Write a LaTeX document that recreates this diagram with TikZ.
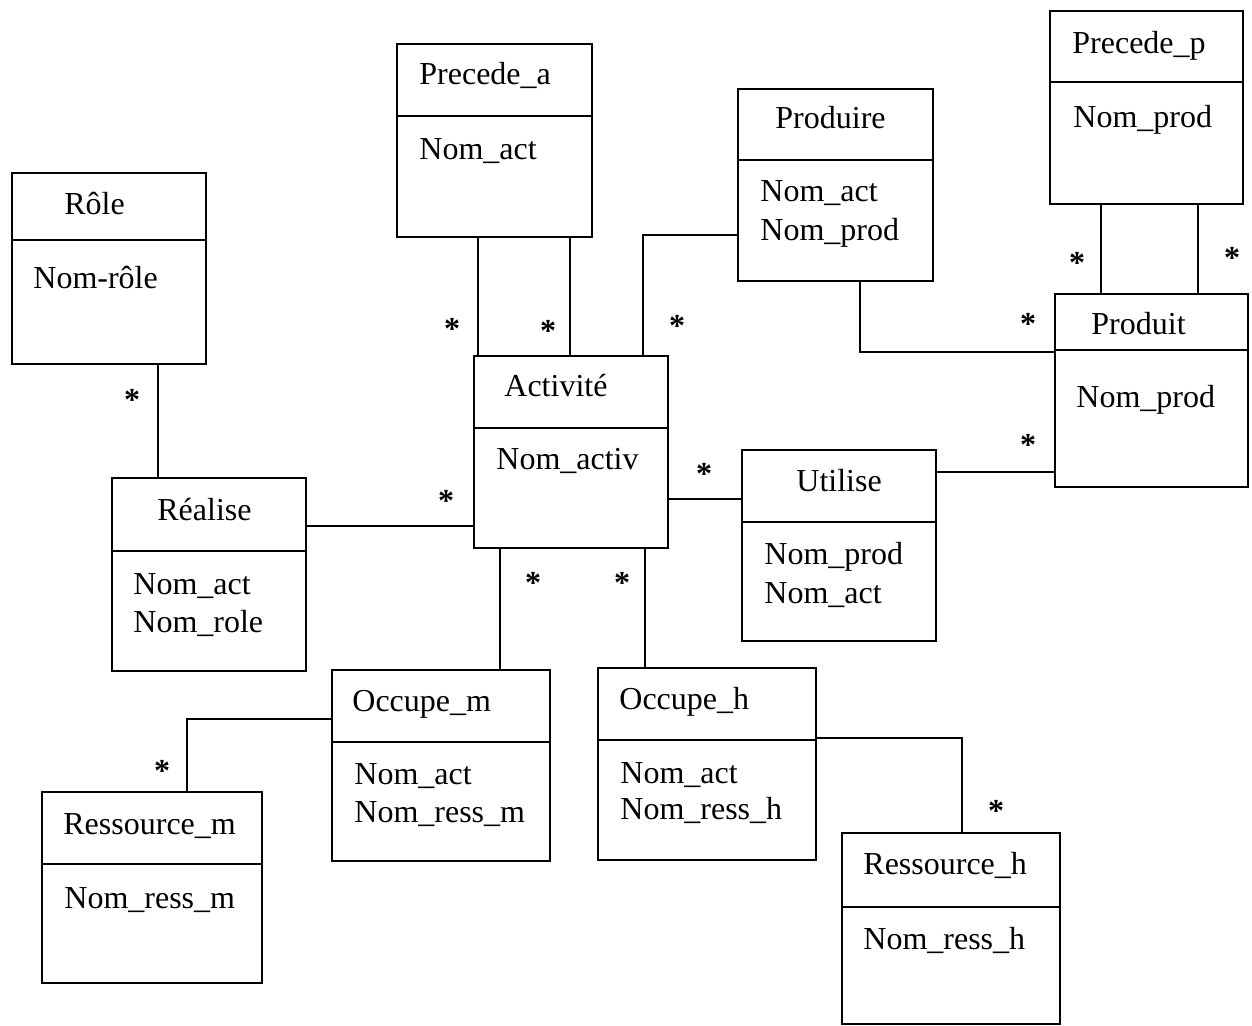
\documentclass[tikz,border=0pt]{standalone}
\usepackage{fontspec}
\setmainfont{Liberation Serif}
\begin{document}
\begin{tikzpicture}[x=0.5pt,y=-0.5pt,
  cbox/.style={draw, line width=1.3pt, inner sep=0pt, outer sep=0pt, anchor=north west},
  rule/.style={line width=1.3pt},
  link/.style={line width=1.3pt},
  lbl/.style={anchor=base west, inner sep=0pt, font=\fontsize{16}{19}\selectfont},
  mult/.style={anchor=base, inner sep=0pt, font=\fontsize{16}{19}\selectfont\bfseries}]
\useasboundingbox (0,0) rectangle (1252,1026);

% class box: name, x1, y1, x2, y2, y of the compartment rule
\newcommand\classbox[6]{%
  \node[cbox, minimum width={(#4-#2)*0.5pt}, minimum height={(#5-#3)*0.5pt}] (#1) at (#2,#3) {};
  \draw[rule] (#1.west |- 0,#6) -- (#1.east |- 0,#6);}

% classes
\classbox{role}{12}{173}{206}{364}{240}
\classbox{precA}{397}{44}{592}{237}{116}
\classbox{produire}{738}{89}{933}{281}{160}
\classbox{precP}{1050}{11}{1243}{204}{82}
\classbox{produit}{1055}{294}{1248}{487}{350}
\classbox{activite}{474}{356}{668}{548}{428}
\classbox{realise}{112}{478}{306}{671}{551}
\classbox{utilise}{742}{450}{936}{641}{522}
\classbox{occM}{332}{670}{550}{861}{742}
\classbox{occH}{598}{668}{816}{860}{740}
\classbox{resM}{42}{792}{262}{983}{864}
\classbox{resH}{842}{833}{1060}{1024}{907}

% names and attributes
\node[lbl] (roleT) at (64,215) {Rôle};
\node[lbl] (roleA) at (33,289) {Nom-rôle};
\node[lbl] (precAT) at (419,85) {Precede\_a};
\node[lbl] (precAA) at (419,160) {Nom\_act};
\node[lbl] (produireT) at (775,129) {Produire};
\node[lbl] (produireA1) at (760,202) {Nom\_act};
\node[lbl] (produireA2) at (760,241) {Nom\_prod};
\node[lbl] (precPT) at (1072,54) {Precede\_p};
\node[lbl] (precPA) at (1073,128) {Nom\_prod};
\node[lbl] (produitT) at (1091,335) {Produit};
\node[lbl] (produitA) at (1076,408) {Nom\_prod};
\node[lbl] (activiteT) at (504,397) {Activité};
\node[lbl] (activiteA) at (496,469) {Nom\_activ};
\node[lbl] (realiseT) at (157,520) {Réalise};
\node[lbl] (realiseA1) at (133,594) {Nom\_act};
\node[lbl] (realiseA2) at (133,632) {Nom\_role};
\node[lbl] (utiliseT) at (796,491) {Utilise};
\node[lbl] (utiliseA1) at (764,564) {Nom\_prod};
\node[lbl] (utiliseA2) at (764,603) {Nom\_act};
\node[lbl] (occMT) at (352,711) {Occupe\_m};
\node[lbl] (occMA1) at (354,784) {Nom\_act};
\node[lbl] (occMA2) at (354,822) {Nom\_ress\_m};
\node[lbl] (occHT) at (619,709) {Occupe\_h};
\node[lbl] (occHA1) at (620,783) {Nom\_act};
\node[lbl] (occHA2) at (620,819) {Nom\_ress\_h};
\node[lbl] (resMT) at (63,834) {Ressource\_m};
\node[lbl] (resMA) at (64,908) {Nom\_ress\_m};
\node[lbl] (resHT) at (863,874) {Ressource\_h};
\node[lbl] (resHA) at (863,949) {Nom\_ress\_h};

% associations
\draw[link] (158,0 |- role.south) -- (158,0 |- realise.north);
\draw[link] (realise.east |- 0,526) -- (activite.west |- 0,526);
\draw[link] (478,0 |- precA.south) -- (478,0 |- activite.north);
\draw[link] (570,0 |- precA.south) -- (570,0 |- activite.north);
\draw[link] (643,0 |- activite.north) |- (produire.west |- 0,235);
\draw[link] (860,0 |- produire.south) |- (produit.west |- 0,352);
\draw[link] (1101,0 |- precP.south) -- (1101,0 |- produit.north);
\draw[link] (1198,0 |- precP.south) -- (1198,0 |- produit.north);
\draw[link] (activite.east |- 0,499) -- (utilise.west |- 0,499);
\draw[link] (utilise.east |- 0,472) -- (produit.west |- 0,472);
\draw[link] (500,0 |- activite.south) -- (500,0 |- occM.north);
\draw[link] (645,0 |- activite.south) -- (645,0 |- occH.north);
\draw[link] (occM.west |- 0,719) -| (187,0 |- resM.north);
\draw[link] (occH.east |- 0,738) -| (962,0 |- resH.north);

% multiplicities
\node[mult] (m1) at (132,410) {*};
\node[mult] (m2) at (446,511) {*};
\node[mult] (m3) at (452,340) {*};
\node[mult] (m4) at (548,342) {*};
\node[mult] (m5) at (677,337) {*};
\node[mult] (m6) at (1028,335) {*};
\node[mult] (m7) at (1077,274) {*};
\node[mult] (m8) at (1232,269) {*};
\node[mult] (m9) at (704,484) {*};
\node[mult] (m10) at (1028,455) {*};
\node[mult] (m11) at (533,593) {*};
\node[mult] (m12) at (622,593) {*};
\node[mult] (m13) at (162,781) {*};
\node[mult] (m14) at (996,821) {*};
\end{tikzpicture}
\end{document}
